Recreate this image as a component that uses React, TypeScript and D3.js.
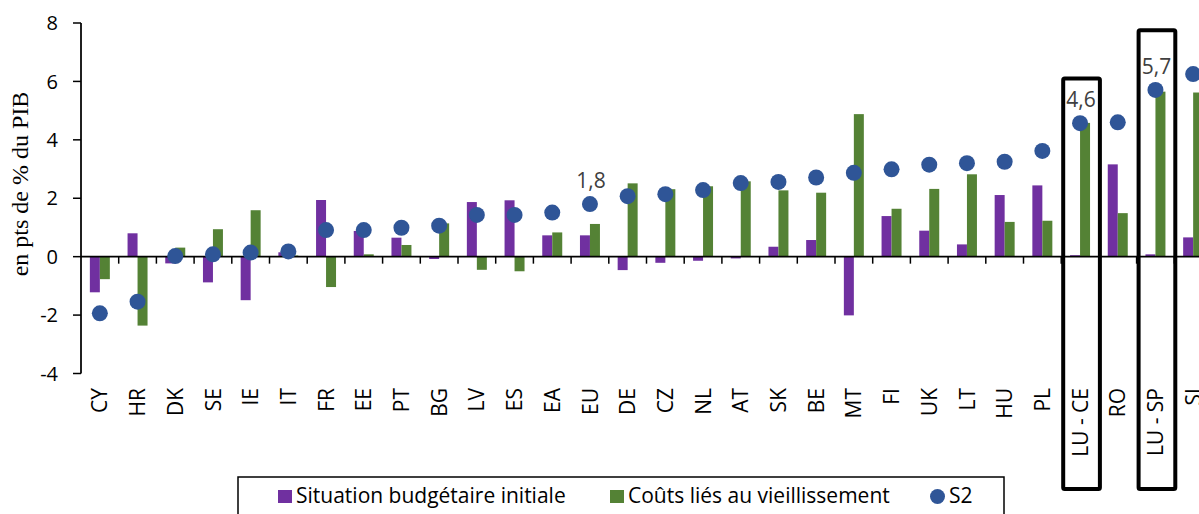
import React from 'react';
import * as d3 from 'd3';

const categories = ['CY', 'HR', 'DK', 'SE', 'IE', 'IT', 'FR', 'EE', 'PT', 'BG', 'LV', 'ES', 'EA', 'EU', 'DE', 'CZ', 'NL', 'AT', 'SK', 'BE', 'MT', 'FI', 'UK', 'LT', 'HU', 'PL', 'LU - CE', 'RO', 'LU - SP', 'SI'];

// Situation budgétaire initiale
const initialPosition = [-1.22, 0.8, -0.23, -0.88, -1.49, 0.15, 1.94, 0.88, 0.65, -0.08, 1.87, 1.93, 0.73, 0.73, -0.46, -0.21, -0.14, -0.06, 0.34, 0.57, -2.01, 1.39, 0.89, 0.42, 2.11, 2.44, 0.05, 3.16, 0.08, 0.66];

// Coûts liés au vieillissement
const ageingCosts = [-0.77, -2.36, 0.31, 0.94, 1.59, 0.04, -1.04, 0.08, 0.4, 1.14, -0.45, -0.5, 0.83, 1.12, 2.51, 2.31, 2.41, 2.58, 2.27, 2.19, 4.88, 1.64, 2.32, 2.82, 1.19, 1.23, 4.58, 1.49, 5.65, 5.62];

// S2
const s2 = [-1.94, -1.54, 0.02, 0.08, 0.14, 0.18, 0.91, 0.91, 0.99, 1.06, 1.43, 1.43, 1.51, 1.8, 2.07, 2.14, 2.28, 2.52, 2.56, 2.71, 2.87, 2.99, 3.15, 3.2, 3.25, 3.62, 4.57, 4.6, 5.71, 6.25];

const yTicks = [-4, -2, 0, 2, 4, 6, 8];

const valueLabels = [
  { cat: 'EU', text: '1,8' },
  { cat: 'LU - CE', text: '4,6' },
  { cat: 'LU - SP', text: '5,7' },
];

const highlighted = [
  { cat: 'LU - CE', top: 6.1 },
  { cat: 'LU - SP', top: 7.75 },
];

const PURPLE = '#7030A0';
const GREEN = '#548235';
const BLUE = '#2F5597';
const FONT = '"Open Sans", "Noto Sans", sans-serif';

export default function App() {
  const width = 1199;
  const height = 514;

  const x = d3.scaleBand<string>().domain(categories).range([81, 81 + 37.7 * categories.length]).padding(0);
  const y = d3.scaleLinear().domain([-4, 8]).range([373.5, 23]);
  const bw = x.bandwidth();
  const barW = bw * 0.265;
  const y0 = y(0);

  return (
    <svg width={width} height={height} style={{ position: 'absolute', left: 0, top: 0, background: '#fff' }} fontFamily={FONT}>
      {/* bars */}
      {categories.map((c, i) => {
        const cx = x(c)! + bw / 2;
        const a = initialPosition[i];
        const b = ageingCosts[i];
        return (
          <g key={c}>
            <rect x={cx - barW} y={Math.min(y(a), y0)} width={barW} height={Math.abs(y(a) - y0)} fill={PURPLE} />
            <rect x={cx} y={Math.min(y(b), y0)} width={barW} height={Math.abs(y(b) - y0)} fill={GREEN} />
          </g>
        );
      })}

      {/* x axis */}
      <line x1={81} x2={width} y1={y0} y2={y0} stroke="#000" strokeWidth={1.75} />
      {categories.map((c) => (
        <line key={'t' + c} x1={x(c)! + bw} x2={x(c)! + bw} y1={y0} y2={y0 + 7} stroke="#000" strokeWidth={1.5} />
      ))}

      {/* y axis */}
      <line x1={81} x2={81} y1={y(8)} y2={y(-4)} stroke="#000" strokeWidth={1.75} />
      {yTicks.map((t) => (
        <g key={'y' + t}>
          <line x1={73} x2={81} y1={y(t)} y2={y(t)} stroke="#000" strokeWidth={1.5} />
          <text x={58} y={y(t)} dy="0.36em" textAnchor="end" fontSize={20} fill="#000">{t}</text>
        </g>
      ))}

      {/* S2 dots */}
      {categories.map((c, i) => (
        <circle key={'d' + c} cx={x(c)! + bw / 2} cy={y(s2[i])} r={8} fill={BLUE} />
      ))}

      {/* value labels */}
      {valueLabels.map((l) => {
        const i = categories.indexOf(l.cat);
        return (
          <text key={'l' + l.cat} x={x(l.cat)! + bw / 2 + 1} y={y(s2[i]) - 16} textAnchor="middle" fontSize={21} fill="#404040">{l.text}</text>
        );
      })}

      {/* category labels */}
      {categories.map((c) => (
        <text key={'c' + c} transform={`translate(${x(c)! + bw / 2},388) rotate(-90)`} dy="0.36em" textAnchor="end" fontSize={21} fill="#000">{c}</text>
      ))}

      {/* highlight boxes */}
      {highlighted.map((h) => (
        <rect key={'h' + h.cat} x={x(h.cat)! + 2} y={y(h.top)} width={bw - 1} height={489 - y(h.top)} fill="none" stroke="#000" strokeWidth={4} rx={1.5} />
      ))}

      {/* y title */}
      <text transform="translate(20,184) rotate(-90)" dy="0.35em" textAnchor="middle" fontFamily='"Liberation Serif", "DejaVu Serif", serif' fontSize={24} fill="#000">en pts de % du PIB</text>

      {/* legend */}
      <rect x={238} y={477} width={766} height={60} fill="#fff" stroke="#000" strokeWidth={1.5} />
      <rect x={278} y={490} width={14} height={13} fill={PURPLE} />
      <text x={296} y={503} fontSize={21} fill="#000">Situation budgétaire initiale</text>
      <rect x={610} y={490} width={14} height={13} fill={GREEN} />
      <text x={628} y={503} fontSize={21} fill="#000">Coûts liés au vieillissement</text>
      <circle cx={937.5} cy={496.5} r={7.5} fill={BLUE} />
      <text x={949} y={503} fontSize={21} fill="#000">S2</text>
    </svg>
  );
}
